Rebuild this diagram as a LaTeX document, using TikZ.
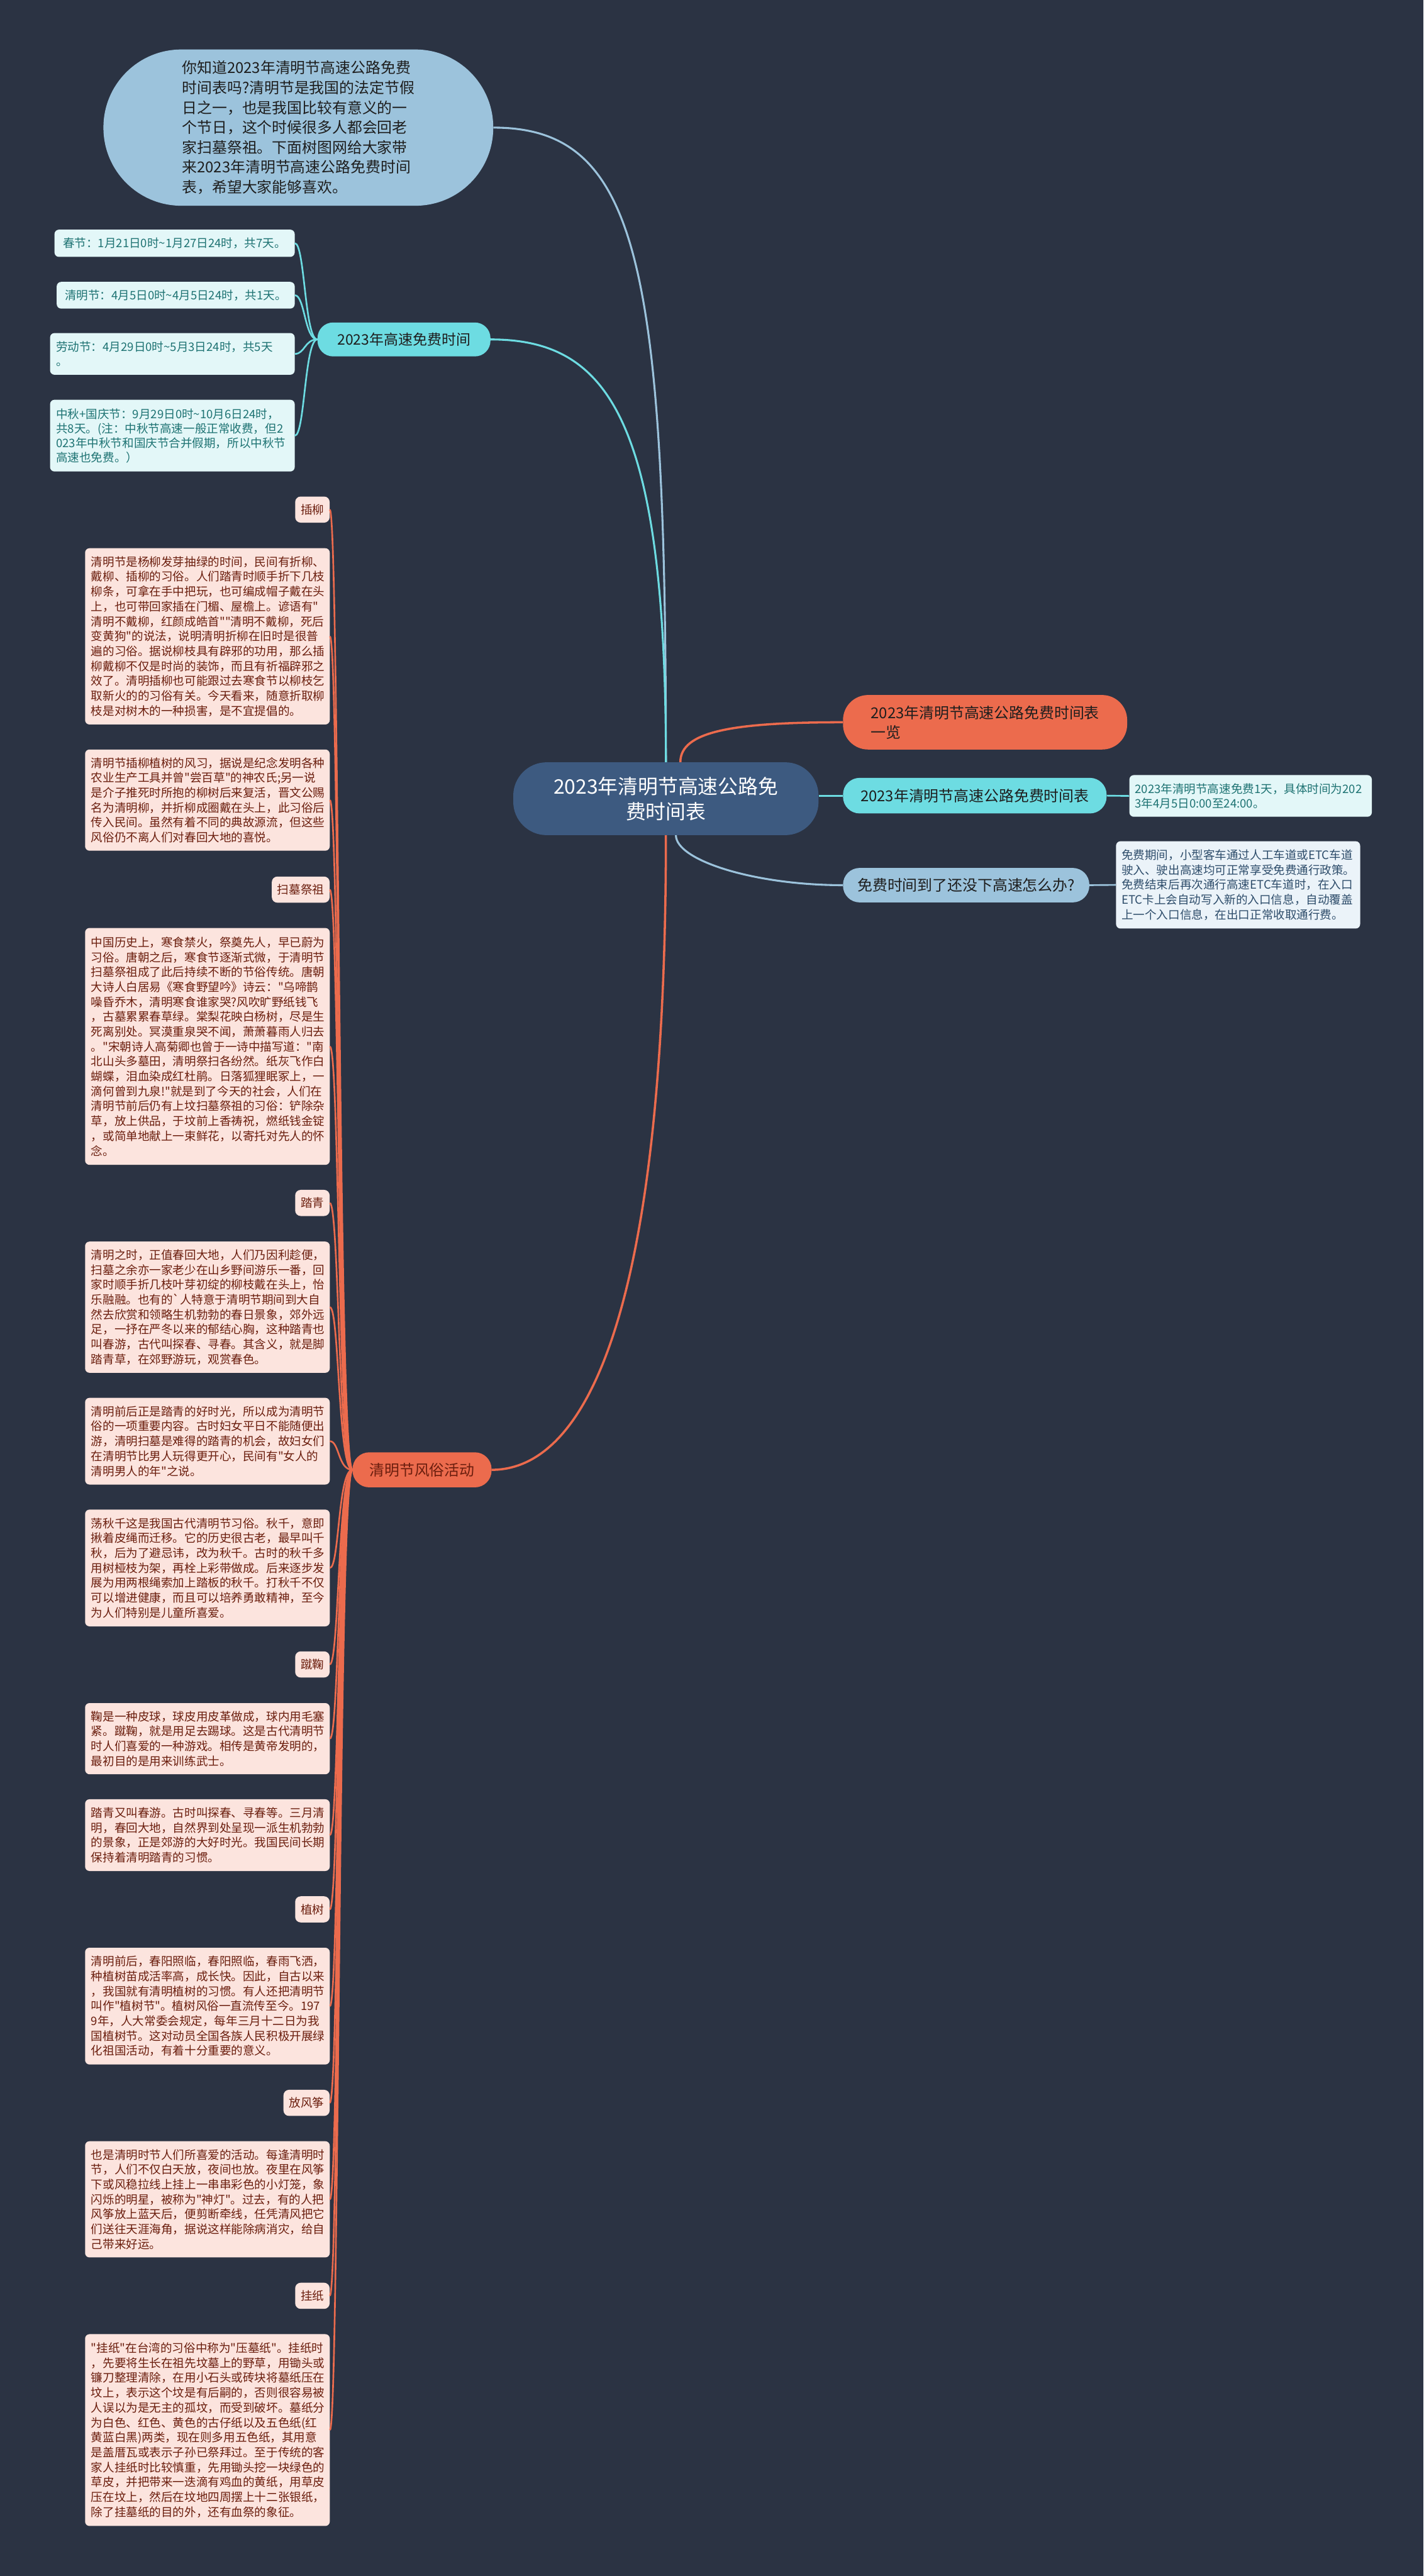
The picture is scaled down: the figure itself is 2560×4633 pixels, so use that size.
\documentclass[tikz,border=0pt]{standalone}
\usepackage{fontspec}
\setmainfont{Noto Sans CJK SC}
\newfontfamily\cjk{Noto Sans CJK SC}
\newcommand\fsz[2]{\cjk\fontsize{#1}{#2}\selectfont}
\definecolor{bgc}{HTML}{2B3343}
\definecolor{ctrc}{HTML}{3D5A80}
\definecolor{orc}{HTML}{EC6B4D}
\definecolor{cyc}{HTML}{6DDCE2}
\definecolor{lbc}{HTML}{9CC3DC}
\definecolor{oleaf}{HTML}{FCE4DE}
\definecolor{otext}{HTML}{6B1E0E}
\definecolor{cleaf}{HTML}{E3F7F8}
\definecolor{ctext}{HTML}{1E7373}
\definecolor{bleaf}{HTML}{EBF3F9}
\definecolor{btext}{HTML}{2E4D6B}
\definecolor{darktext}{HTML}{1E1E1E}
\tikzset{
  box/.style={inner sep=0pt, align=left},
  para/.style={box, rounded corners=8, fill=oleaf, text=otext, font=\fsz{21}{26.8}, text width=418, inner xsep=11},
  tag/.style={box, rounded corners=10, fill=oleaf, text=otext, font=\fsz{21}{26.8}, minimum height=47, inner xsep=10, anchor=east},
  cleafbox/.style={box, rounded corners=8, fill=cleaf, text=ctext, font=\fsz{21}{26}},
  bleafbox/.style={box, rounded corners=8, fill=bleaf, text=btext, font=\fsz{21}{26.7}},
  mainbox/.style={box, text=darktext, font=\fsz{27}{35}},
  oline/.style={draw=orc, line width=4},
  osub/.style={draw=orc, line width=3},
  cline/.style={draw=cyc, line width=3.5},
  csub/.style={draw=cyc, line width=3},
  bline/.style={draw=lbc, line width=3.5},
}
\begin{document}
\begin{tikzpicture}[x=1pt,y=-1pt]
\fill[bgc] (0,0) rectangle (2560,4633);
\useasboundingbox (0,0) rectangle (2560,4633);

% center
\node[box, align=center, fill=ctrc, text=white, rounded corners=60, minimum width=549, minimum height=131, font=\fsz{36}{45}] (ctr) at (1197.5,1436.5) {2023年清明节高速公路免\\费时间表};

% intro bubble
\node[mainbox, fill=lbc, rounded corners=140, minimum width=701, minimum height=281, font=\fsz{27}{35.8}] (intro) at (536.5,229.5) {你知道2023年清明节高速公路免费\\时间表吗?清明节是我国的法定节假\\日之一，也是我国比较有意义的一\\个节日，这个时候很多人都会回老\\家扫墓祭祖。下面树图网给大家带\\来2023年清明节高速公路免费时间\\表，希望大家能够喜欢。};

% right side
\node[mainbox, fill=orc, rounded corners=45, minimum width=511, minimum height=98] (r1) at (1771.5,1299) {2023年清明节高速公路免费时间表\\一览};
\node[mainbox, fill=cyc, rounded corners=30, minimum width=474, minimum height=64] (r2) at (1753,1431) {2023年清明节高速公路免费时间表};
\node[cleafbox, text width=416, inner xsep=10, minimum height=75] (l2) at (2249,1431.5) {2023年清明节高速免费1天，具体时间为202\\3年4月5日0:00至24:00。};
\node[mainbox, fill=lbc, rounded corners=30, minimum width=443, minimum height=62] (r3) at (1737.5,1592) {免费时间到了还没下高速怎么办?};
\node[bleafbox, text width=419, inner xsep=10, minimum height=157] (l3) at (2226.5,1591.5) {免费期间，小型客车通过人工车道或ETC车道\\驶入、驶出高速均可正常享受免费通行政策。\\免费结束后再次通行高速ETC车道时，在入口\\ETC卡上会自动写入新的入口信息，自动覆盖\\上一个入口信息，在出口正常收取通行费。};

% left top branch
\node[mainbox, fill=cyc, rounded corners=28, minimum width=311, minimum height=61, font=\fsz{26}{34}] (gaosu) at (726.5,610.5) {2023年高速免费时间};
\node[cleafbox, minimum width=432, minimum height=49] (ga) at (314,437.5) {春节：1月21日0时\textasciitilde1月27日24时，共7天。};
\node[cleafbox, minimum width=428, minimum height=48] (gb) at (316,531) {清明节：4月5日0时\textasciitilde4月5日24时，共1天。};
\node[cleafbox, text width=418, inner xsep=11, minimum height=75] (gc) at (310,636.5) {劳动节：4月29日0时\textasciitilde5月3日24时，共5天\\。};
\node[cleafbox, text width=418, inner xsep=11, minimum height=129] (gd) at (310,783.5) {中秋+国庆节：9月29日0时\textasciitilde10月6日24时，\\共8天。(注：中秋节高速一般正常收费，但2\\023年中秋节和国庆节合并假期，所以中秋节\\高速也免费。）};

% left bottom branch
\node[mainbox, fill=orc, text=otext, rounded corners=30, minimum width=250, minimum height=63] (fs) at (759,2643.5) {清明节风俗活动};

\node[tag] (t1) at (593,916.5) {插柳};
\node[para, minimum height=317] (p1) at (373,1144.5) {清明节是杨柳发芽抽绿的时间，民间有折柳、\\戴柳、插柳的习俗。人们踏青时顺手折下几枝\\柳条，可拿在手中把玩，也可编成帽子戴在头\\上，也可带回家插在门楣、屋檐上。谚语有"\\清明不戴柳，红颜成皓首""清明不戴柳，死后\\变黄狗"的说法，说明清明折柳在旧时是很普\\遍的习俗。据说柳枝具有辟邪的功用，那么插\\柳戴柳不仅是时尚的装饰，而且有祈福辟邪之\\效了。清明插柳也可能跟过去寒食节以柳枝乞\\取新火的的习俗有关。今天看来，随意折取柳\\枝是对树木的一种损害，是不宜提倡的。};
\node[para, minimum height=182] (p2) at (373,1439) {清明节插柳植树的风习，据说是纪念发明各种\\农业生产工具并曾"尝百草"的神农氏;另一说\\是介子推死时所抱的柳树后来复活，晋文公赐\\名为清明柳，并折柳成圈戴在头上，此习俗后\\传入民间。虽然有着不同的典故源流，但这些\\风俗仍不离人们对春回大地的喜悦。};
\node[tag] (t2) at (593,1600) {扫墓祭祖};
\node[para, minimum height=426] (p3) at (373,1882) {中国历史上，寒食禁火，祭奠先人，早已蔚为\\习俗。唐朝之后，寒食节逐渐式微，于清明节\\扫墓祭祖成了此后持续不断的节俗传统。唐朝\\大诗人白居易《寒食野望吟》诗云："乌啼鹊\\噪昏乔木，清明寒食谁家哭?风吹旷野纸钱飞\\，古墓累累春草绿。棠梨花映白杨树，尽是生\\死离别处。冥漠重泉哭不闻，萧萧暮雨人归去\\。"宋朝诗人高菊卿也曾于一诗中描写道："南\\北山头多墓田，清明祭扫各纷然。纸灰飞作白\\蝴蝶，泪血染成红杜鹃。日落狐狸眠冢上，一\\滴何曾到九泉!"就是到了今天的社会，人们在\\清明节前后仍有上坟扫墓祭祖的习俗：铲除杂\\草，放上供品，于坟前上香祷祝，燃纸钱金锭\\，或简单地献上一束鲜花，以寄托对先人的怀\\念。};
\node[tag] (t3) at (593,2163.5) {踏青};
\node[para, minimum height=236] (p4) at (373,2351) {清明之时，正值春回大地，人们乃因利趁便，\\扫墓之余亦一家老少在山乡野间游乐一番，回\\家时顺手折几枝叶芽初绽的柳枝戴在头上，怡\\乐融融。也有的\textasciigrave 人特意于清明节期间到大自\\然去欣赏和领略生机勃勃的春日景象，郊外远\\足，一抒在严冬以来的郁结心胸，这种踏青也\\叫春游，古代叫探春、寻春。其含义，就是脚\\踏青草，在郊野游玩，观赏春色。};
\node[para, minimum height=156] (p5) at (373,2592) {清明前后正是踏青的好时光，所以成为清明节\\俗的一项重要内容。古时妇女平日不能随便出\\游，清明扫墓是难得的踏青的机会，故妇女们\\在清明节比男人玩得更开心，民间有"女人的\\清明男人的年"之说。};
\node[para, minimum height=210] (p6) at (373,2820) {荡秋千这是我国古代清明节习俗。秋千，意即\\揪着皮绳而迁移。它的历史很古老，最早叫千\\秋，后为了避忌讳，改为秋千。古时的秋千多\\用树桠枝为架，再栓上彩带做成。后来逐步发\\展为用两根绳索加上踏板的秋千。打秋千不仅\\可以增进健康，而且可以培养勇敢精神，至今\\为人们特别是儿童所喜爱。};
\node[tag] (t4) at (593,2993.5) {蹴鞠};
\node[para, minimum height=128] (p7) at (373,3127) {鞠是一种皮球，球皮用皮革做成，球内用毛塞\\紧。蹴鞠，就是用足去踢球。这是古代清明节\\时人们喜爱的一种游戏。相传是黄帝发明的，\\最初目的是用来训练武士。};
\node[para, minimum height=129] (p8) at (373,3300.5) {踏青又叫春游。古时叫探春、寻春等。三月清\\明，春回大地，自然界到处呈现一派生机勃勃\\的景象，正是郊游的大好时光。我国民间长期\\保持着清明踏青的习惯。};
\node[tag] (t5) at (593,3434) {植树};
\node[para, minimum height=210] (p9) at (373,3608) {清明前后，春阳照临，春阳照临，春雨飞洒，\\种植树苗成活率高，成长快。因此，自古以来\\，我国就有清明植树的习惯。有人还把清明节\\叫作"植树节"。植树风俗一直流传至今。197\\9年，人大常委会规定，每年三月十二日为我\\国植树节。这对动员全国各族人民积极开展绿\\化祖国活动，有着十分重要的意义。};
\node[tag] (t6) at (593,3782) {放风筝};
\node[para, minimum height=209] (p10) at (373,3955.5) {也是清明时节人们所喜爱的活动。每逢清明时\\节，人们不仅白天放，夜间也放。夜里在风筝\\下或风稳拉线上挂上一串串彩色的小灯笼，象\\闪烁的明星，被称为"神灯"。过去，有的人把\\风筝放上蓝天后，便剪断牵线，任凭清风把它\\们送往天涯海角，据说这样能除病消灾，给自\\己带来好运。};
\node[tag] (t7) at (593,4129) {挂纸};
\node[para, minimum height=345] (p11) at (373,4370.5) {"挂纸"在台湾的习俗中称为"压墓纸"。挂纸时\\，先要将生长在祖先坟墓上的野草，用锄头或\\镰刀整理清除，在用小石头或砖块将墓纸压在\\坟上，表示这个坟是有后嗣的，否则很容易被\\人误以为是无主的孤坟，而受到破坏。墓纸分\\为白色、红色、黄色的古仔纸以及五色纸(红\\黄蓝白黑)两类，现在则多用五色纸，其用意\\是盖厝瓦或表示子孙已祭拜过。至于传统的客\\家人挂纸时比较慎重，先用锄头挖一块绿色的\\草皮，并把带来一迭滴有鸡血的黄纸，用草皮\\压在坟上，然后在坟地四周摆上十二张银纸，\\除了挂墓纸的目的外，还有血祭的象征。};

% connectors
\draw[bline] (ctr.north) .. controls +(0,-900) and +(260,0) .. (intro.east);
\draw[cline] (ctr.north) .. controls +(0,-620) and +(210,0) .. (gaosu.east);
\draw[oline] ([xshift=26]ctr.north) .. controls +(0,-55) and +(-200,0) .. (r1.west);
\draw[cline] (ctr.east |- r2.west) -- (r2.west);
\draw[bline] ([xshift=18]ctr.south) .. controls +(0,45) and +(-160,0) .. (r3.west);
\draw[oline] (ctr.south) .. controls +(0,1000) and +(120,0) .. (fs.east);
\draw[csub] (r2.east) -- (l2.west);
\draw[bline, line width=3] (r3.east) -- (l3.west);
\foreach \n in {ga,gb,gc,gd}
  \draw[csub] (gaosu.west) .. controls +(-23,0) and +(18,0) .. (\n.east);
\foreach \n in {t1,p1,p2,t2,p3,t3,p4,p5,p6,t4,p7,p8,t5,p9,t6,p10,t7,p11}
  \draw[osub] (fs.west) .. controls +(-26,0) and +(17,0) .. (\n.east);
\end{tikzpicture}
\end{document}
